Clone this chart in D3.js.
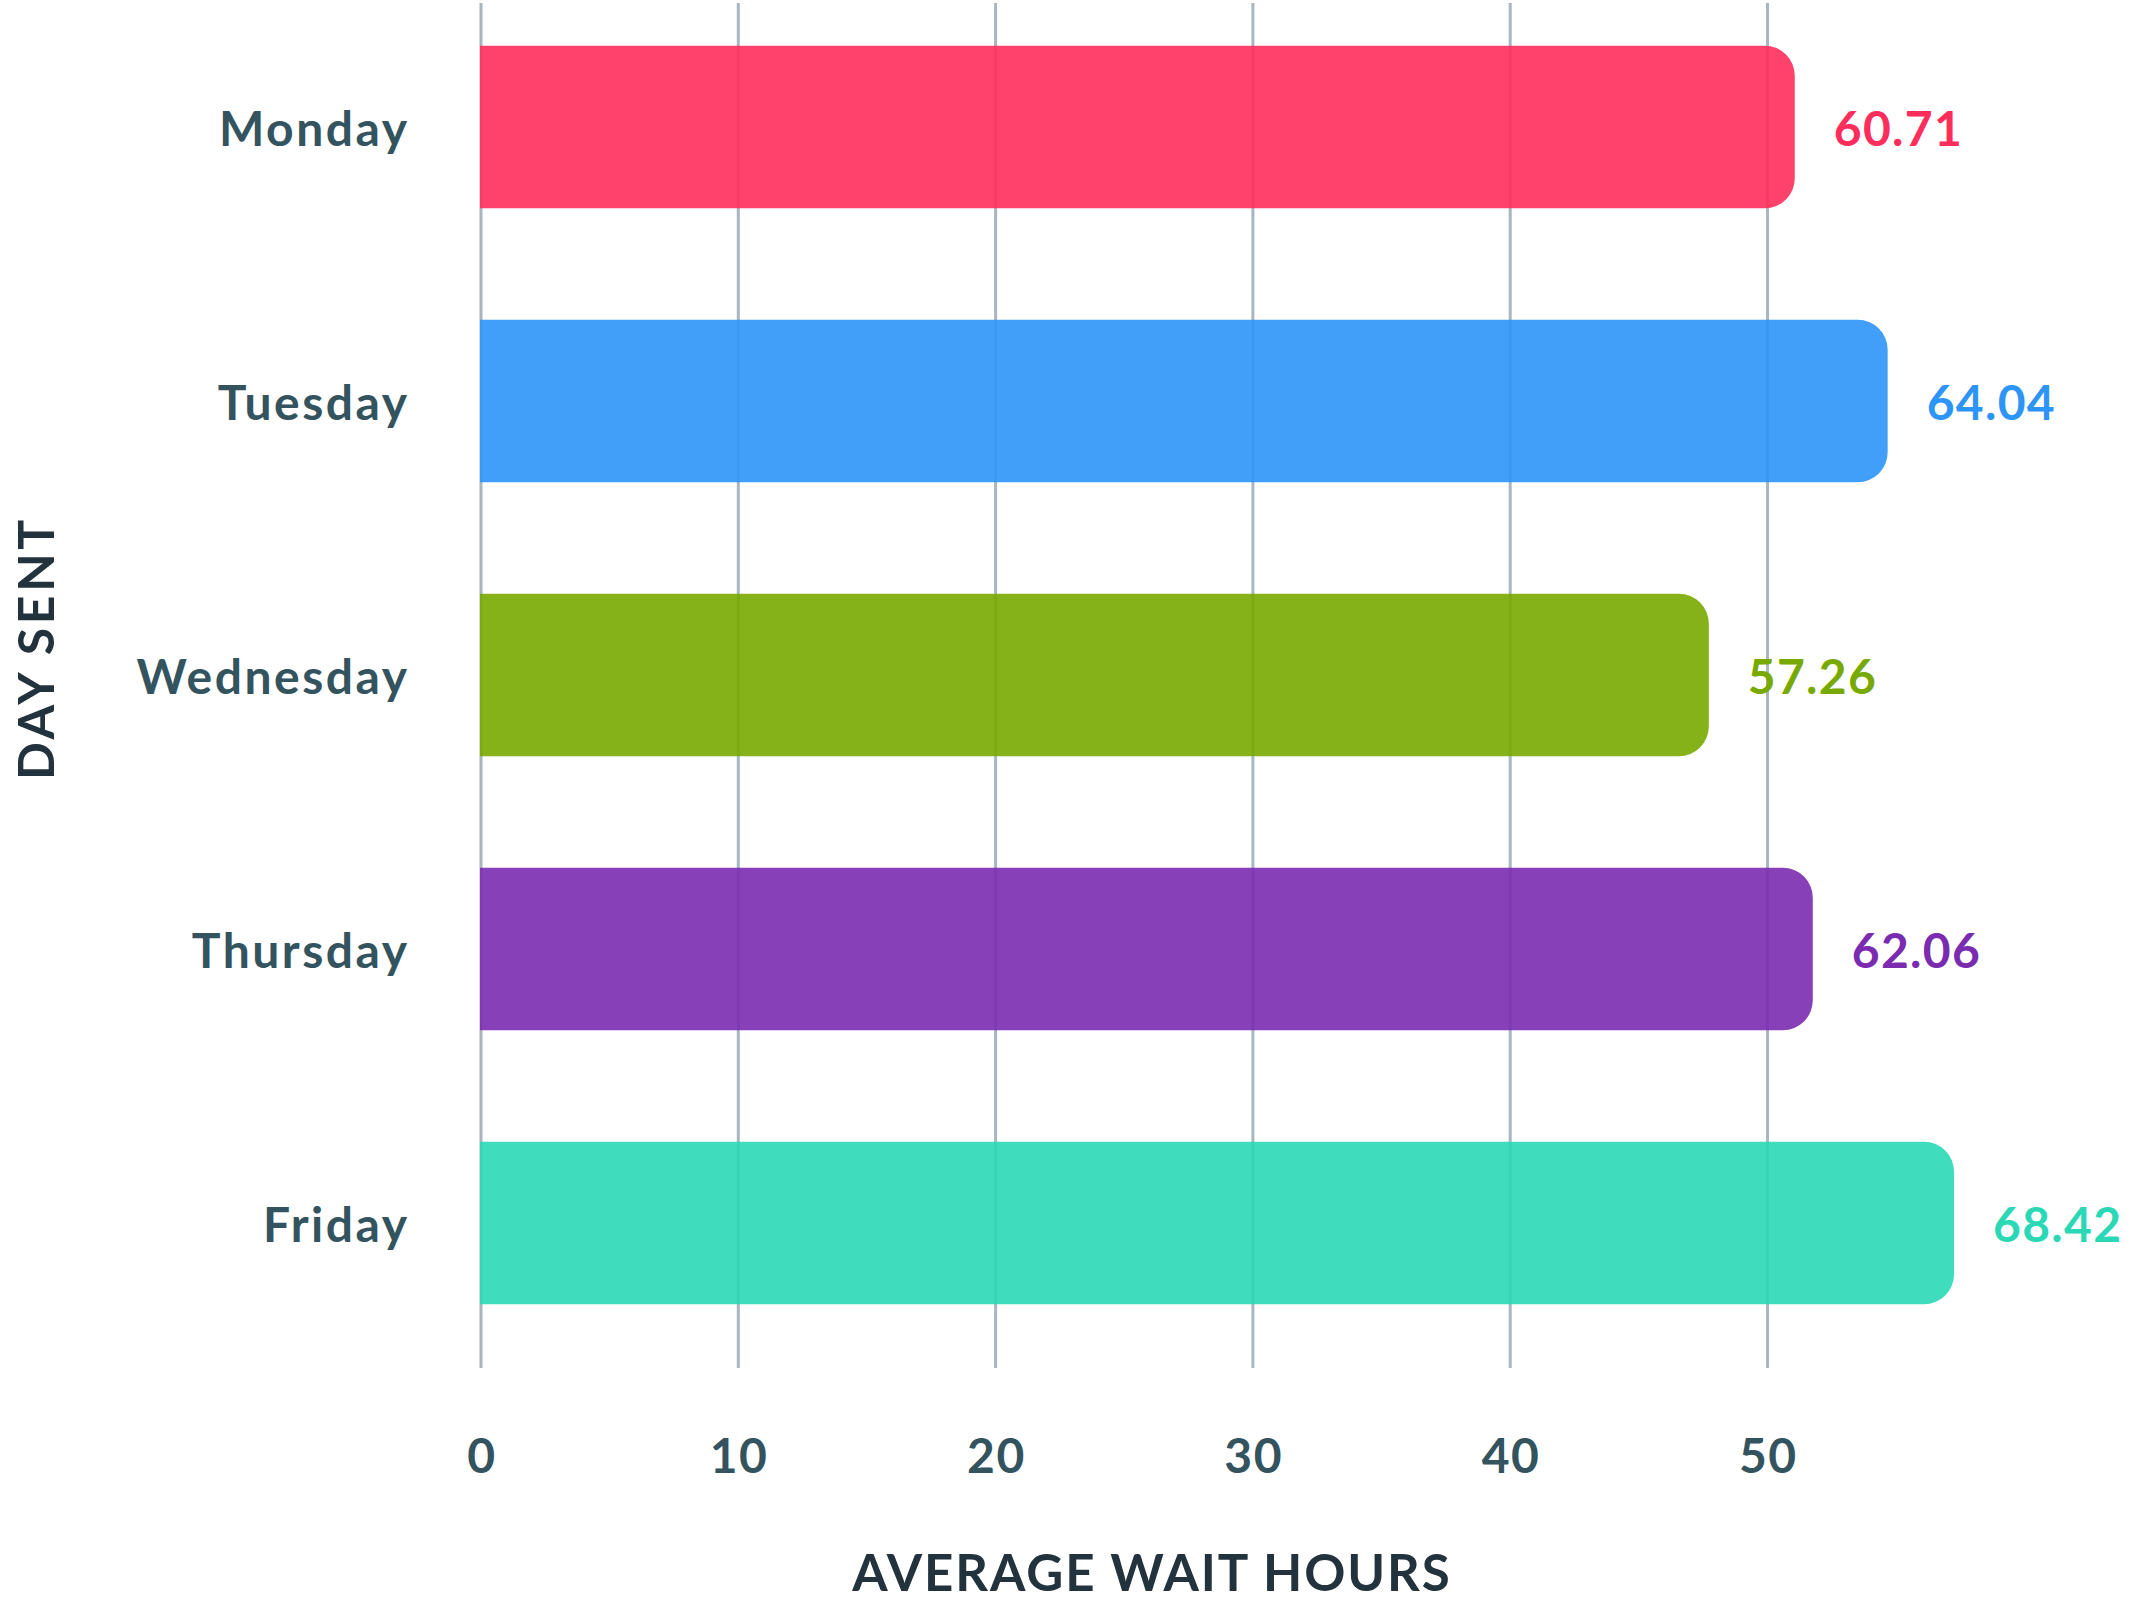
<!DOCTYPE html>
<html>
<head>
<meta charset="utf-8">
<script src="https://cdn.jsdelivr.net/npm/d3@7"></script>
<style>
  html, body { margin: 0; padding: 0; background: #ffffff; }
  svg { display: block; }
  text { font-family: Lato, "Open Sans", sans-serif; font-weight: 700; }
</style>
</head>
<body>
<svg id="chart" width="2136" height="1601"></svg>
<script>
// ---- data ----
const days = ["Monday", "Tuesday", "Wednesday", "Thursday", "Friday"];
const valueLabels = ["60.71", "64.04", "57.26", "62.06", "68.42"];
// bar lengths as drawn against the printed hour axis
const barHours = [51.06, 54.67, 47.72, 51.76, 57.25];
const dayColors = ["#ff2d5c", "#2e95f8", "#78a900", "#7a2bb0", "#2ad8b6"];
const tickValues = [0, 10, 20, 30, 40, 50];
const xTitle = "AVERAGE WAIT HOURS";
const yTitle = "DAY SENT";

const svg = d3.select("#chart");

const x = d3.scaleLinear().domain([0, 50]).range([481, 1767.5]);
const y = d3.scaleBand().domain(days).range([-10, 1360])
  .paddingInner(0.407).paddingOuter(0.2035);

// gridlines
svg.append("g").selectAll("line").data(tickValues).join("line")
  .attr("x1", d => x(d)).attr("x2", d => x(d))
  .attr("y1", 3).attr("y2", 1368)
  .attr("stroke", "#a9b6bf").attr("stroke-width", 3);

// bars: square left, rounded right
const r = 30;
function barPath(x0, x1, y0, h) {
  const p = d3.path();
  p.moveTo(x0, y0);
  p.lineTo(x1 - r, y0);
  p.arcTo(x1, y0, x1, y0 + r, r);
  p.lineTo(x1, y0 + h - r);
  p.arcTo(x1, y0 + h, x1 - r, y0 + h, r);
  p.lineTo(x0, y0 + h);
  p.closePath();
  return p.toString();
}
const rows = days.map((d, i) => ({ day: d, v: barHours[i], label: valueLabels[i], color: dayColors[i] }));

svg.append("g").selectAll("path").data(rows).join("path")
  .attr("d", d => barPath(x(0) - 1, x(d.v), y(d.day), y.bandwidth()))
  .attr("fill", d => d.color)
  .attr("fill-opacity", 0.9);

// value labels
svg.append("g").selectAll("text").data(rows).join("text")
  .attr("x", d => x(d.v) + 39)
  .attr("y", d => y(d.day) + y.bandwidth() / 2 + 19)
  .attr("fill", d => d.color)
  .attr("font-size", 48)
  .attr("letter-spacing", 1.3)
  .text(d => d.label);

// day labels
svg.append("g").selectAll("text").data(days).join("text")
  .attr("x", 409.5)
  .attr("y", d => y(d) + y.bandwidth() / 2 + 19)
  .attr("text-anchor", "end")
  .attr("fill", "#33535f")
  .attr("font-size", 48)
  .attr("letter-spacing", 2.5)
  .text(d => d);

// x tick labels
svg.append("g").selectAll("text").data(tickValues).join("text")
  .attr("x", d => x(d) + 0.8)
  .attr("y", 1473)
  .attr("text-anchor", "middle")
  .attr("fill", "#33535f")
  .attr("font-size", 48)
  .attr("letter-spacing", 1.5)
  .text(d => d);

// axis titles
svg.append("text")
  .attr("x", 1152).attr("y", 1591)
  .attr("text-anchor", "middle")
  .attr("fill", "#22333d")
  .attr("font-size", 51)
  .attr("letter-spacing", 1.9)
  .text(xTitle);

svg.append("text")
  .attr("transform", "translate(54,648) rotate(-90)")
  .attr("text-anchor", "middle")
  .attr("fill", "#22333d")
  .attr("font-size", 50)
  .attr("letter-spacing", 3.6)
  .text(yTitle);
</script>
</body>
</html>
